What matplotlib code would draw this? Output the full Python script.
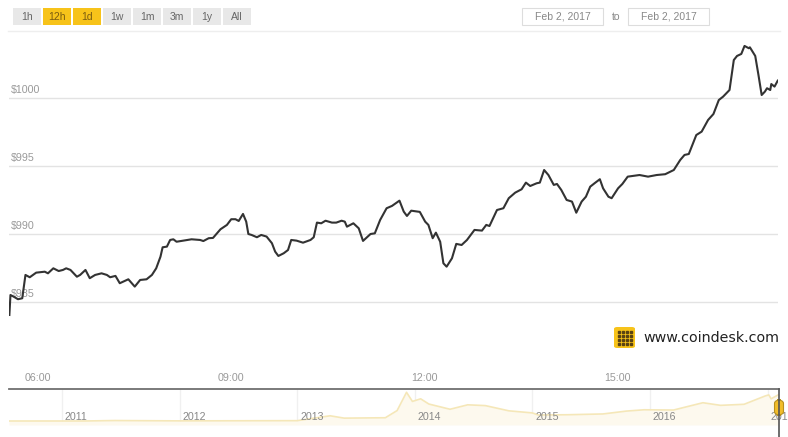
import matplotlib
matplotlib.use('Agg')
import matplotlib.pyplot as plt
import matplotlib.transforms as mtransforms
from matplotlib.patches import Rectangle, FancyBboxPatch

plt.rcParams['font.family'] = ['Liberation Sans', 'DejaVu Sans']

# intraday price, Feb 2 2017
times = ['05:33', '05:34', '05:37', '05:41', '05:45', '05:48', '05:52', '05:58', '06:06', '06:09',
         '06:14', '06:19', '06:23', '06:26', '06:30', '06:36', '06:39', '06:44', '06:48', '06:53',
         '06:59', '07:04', '07:07', '07:12', '07:16', '07:24', '07:30', '07:35', '07:41', '07:46',
         '07:50', '07:54', '07:56', '08:00', '08:03', '08:06', '08:09', '08:15', '08:23', '08:31',
         '08:34', '08:39', '08:43', '08:50', '08:56', '09:00', '09:04', '09:07', '09:11', '09:14',
         '09:16', '09:19', '09:24', '09:28', '09:33', '09:38', '09:41', '09:44', '09:49', '09:53',
         '09:56', '10:01', '10:07', '10:14', '10:17', '10:20', '10:24', '10:28', '10:34', '10:38',
         '10:43', '10:46', '10:48', '10:54', '10:59', '11:03', '11:10', '11:14', '11:19', '11:25',
         '11:30', '11:37', '11:41', '11:44', '11:48', '11:56', '12:01', '12:04', '12:08', '12:11',
         '12:15', '12:18', '12:21', '12:26', '12:30', '12:35', '12:40', '12:47', '12:54', '12:58',
         '13:01', '13:08', '13:14', '13:19', '13:25', '13:31', '13:35', '13:39', '13:45', '13:48',
         '13:52', '13:56', '14:01', '14:04', '14:08', '14:13', '14:18', '14:22', '14:27', '14:31',
         '14:35', '14:39', '14:44', '14:47', '14:52', '14:55', '15:01', '15:05', '15:10', '15:21',
         '15:29', '15:37', '15:45', '15:53', '15:59', '16:03', '16:07', '16:14', '16:19', '16:25',
         '16:30', '16:35', '16:39', '16:45', '16:49', '16:52', '16:56', '16:59', '17:03', '17:04',
         '17:09', '17:12', '17:15', '17:18', '17:20', '17:23', '17:24', '17:27', '17:30']
prices = [984.02, 985.49, 985.37, 985.18, 985.25, 986.97, 986.80, 987.14, 987.21, 987.09,
          987.46, 987.26, 987.34, 987.46, 987.34, 986.84, 986.97, 987.34, 986.73, 986.97,
          987.09, 986.97, 986.80, 986.90, 986.36, 986.65, 986.11, 986.60, 986.65, 986.97,
          987.46, 988.32, 989.01, 989.06, 989.55, 989.60, 989.42, 989.50, 989.60, 989.55,
          989.47, 989.68, 989.70, 990.34, 990.66, 991.08, 991.08, 990.95, 991.47, 990.90,
          989.99, 989.92, 989.75, 989.92, 989.80, 989.31, 988.69, 988.37, 988.57, 988.81,
          989.55, 989.50, 989.35, 989.55, 989.75, 990.83, 990.78, 990.97, 990.83, 990.83,
          990.97, 990.90, 990.53, 990.78, 990.41, 989.48, 989.99, 990.04, 991.03, 991.89,
          992.06, 992.45, 991.64, 991.32, 991.71, 991.62, 990.90, 990.66, 989.68, 990.09,
          989.42, 987.83, 987.58, 988.20, 989.26, 989.18, 989.55, 990.29, 990.24, 990.66,
          990.58, 991.76, 991.89, 992.63, 993.04, 993.29, 993.78, 993.53, 993.73, 993.78,
          994.71, 994.34, 993.61, 993.68, 993.24, 992.50, 992.38, 991.56, 992.38, 992.74,
          993.48, 993.73, 994.03, 993.36, 992.74, 992.63, 993.36, 993.68, 994.22, 994.34,
          994.22, 994.34, 994.40, 994.71, 995.45, 995.82, 995.89, 997.29, 997.54, 998.40,
          998.84, 999.87, 1000.12, 1000.61, 1002.82, 1003.12, 1003.27, 1003.86, 1003.69, 1003.76,
          1003.12, 1001.72, 1000.24, 1000.49, 1000.74, 1000.61, 1001.05, 1000.86, 1001.30]

y_ticks = [985, 990, 995, 1000]
x_ticks = ['06:00', '09:00', '12:00', '15:00']

# navigator: whole history
nav_years = [2010.55, 2011.0, 2011.2, 2011.45, 2011.6, 2012.0, 2012.6, 2013.0, 2013.28, 2013.4,
             2013.75, 2013.85, 2013.93, 2013.98, 2014.05, 2014.12, 2014.3, 2014.45, 2014.6, 2014.8,
             2015.0, 2015.05, 2015.3, 2015.6, 2015.8, 2015.95, 2016.2, 2016.45, 2016.6, 2016.8,
             2016.98, 2017.01, 2017.03, 2017.09]
nav_prices = [0.07, 0.3, 1, 18, 14, 5, 10, 13, 200, 110,
              125, 400, 1100, 750, 850, 650, 450, 620, 590, 390,
              310, 230, 240, 270, 380, 430, 420, 700, 600, 640,
              960, 1000, 850, 1000]
nav_labels = [2011, 2012, 2013, 2014, 2015, 2016, 2017]

buttons = ['1h', '12h', '1d', '1w', '1m', '3m', '1y', 'All']
active = ['12h', '1d']
date_from = 'Feb 2, 2017'
date_to = 'Feb 2, 2017'

W, H = 788, 437


def fx(px):
    return px / W


def fy(py):
    return 1 - py / H


def hours(t):
    return int(t[:2]) + int(t[3:]) / 60


fig = plt.figure(figsize=(W / 100, H / 100), dpi=100)

# main chart
ax = fig.add_axes([fx(9), fy(362), fx(778) - fx(9), fy(42) - fy(362)])
ax.plot([hours(t) for t in times], prices, color='#333333', lw=1.5, zorder=3,
        solid_joinstyle='round')
ax.set_xlim(5.544, 17.504)
ax.set_ylim(980.55, 1004.15)
for s in ax.spines.values():
    s.set_visible(False)
ax.set_yticks([])
for v in y_ticks:
    ax.axhline(v, color='#e3e3e3', lw=1, zorder=1)
    tr = mtransforms.offset_copy(ax.get_yaxis_transform(), fig=fig, x=1, y=2, units='points')
    ax.text(0, v, '$%d' % v, transform=tr, fontsize=7.7, color='#999999', va='bottom',
            ha='left', zorder=2)
ax.set_xticks([hours(t) for t in x_ticks])
ax.set_xticklabels(x_ticks)
ax.tick_params(axis='x', length=0, pad=8, labelsize=7.7, labelcolor='#999999')

# navigator
nav = fig.add_axes([fx(9), fy(425), fx(779) - fx(9), fy(389) - fy(425)])
nav.set_xlim(2010.55, 2017.097)
nav.set_ylim(-153, 1226)
nav.fill_between(nav_years, nav_prices, -153, color='#fdf9ee', lw=0)
nav.plot(nav_years, nav_prices, color='#f5e7b8', lw=1.2)
for yr in nav_labels:
    nav.axvline(yr, color='#f0f0f0', lw=1, zorder=0)
    nav.text(yr + 0.025, 0.22, str(yr), transform=nav.get_xaxis_transform(), fontsize=7.7,
             color='#888888', va='center', ha='left', clip_on=False)
for k in ['left', 'right', 'bottom']:
    nav.spines[k].set_visible(False)
nav.spines['top'].set_color('#707070')
nav.spines['top'].set_linewidth(1.3)
nav.set_xticks([])
nav.set_yticks([])

# navigator handle
fig.add_artist(plt.Line2D([fx(779), fx(779)], [fy(389), fy(437)], color='#555555', lw=1.2))
fig.add_artist(FancyBboxPatch((fx(774.5), fy(415)), fx(9), fy(400) - fy(415),
                              boxstyle='round,pad=0,rounding_size=0.008',
                              facecolor='#f2bd2a', edgecolor='#b8901e', lw=0.8))

# range buttons
for i, b in enumerate(buttons):
    x0 = 13 + i * 30
    fc = '#f7c31a' if b in active else '#e8e8e8'
    tc = '#7a5c10' if b in active else '#666666'
    fig.add_artist(Rectangle((fx(x0), fy(25)), fx(28), fy(8) - fy(25), facecolor=fc,
                             edgecolor='none'))
    fig.text(fx(x0 + 14), fy(16.5), b, fontsize=7.5, color=tc, ha='center', va='center')

# date inputs
for x0, lab in [(522, date_from), (628, date_to)]:
    fig.add_artist(Rectangle((fx(x0), fy(25)), fx(81), fy(8) - fy(25), facecolor='white',
                             edgecolor='#dddddd', lw=0.8))
    fig.text(fx(x0 + 40.5), fy(16.5), lab, fontsize=7.5, color='#888888', ha='center',
             va='center')
fig.text(fx(616), fy(17), 'to', fontsize=7.5, color='#888888', ha='center', va='center')
fig.add_artist(plt.Line2D([fx(8), fx(780)], [fy(30.5), fy(30.5)], color='#eeeeee', lw=1))

# logo
fig.add_artist(FancyBboxPatch((fx(614), fy(348)), fx(21), fy(327) - fy(348),
                              boxstyle='round,pad=0,rounding_size=0.004',
                              facecolor='#f7c31a', edgecolor='none'))
for r in range(4):
    for c in range(4):
        fig.add_artist(plt.Line2D([fx(618.5 + c * 4)], [fy(331.5 + r * 4)], marker='s',
                                  markersize=1.6, color='#5a4313', lw=0))
fig.text(fx(643), fy(338), 'www.coindesk.com', fontsize=10.3, color='#222222',
         family='DejaVu Sans', ha='left', va='center')

fig.savefig('out.png', dpi=100)
